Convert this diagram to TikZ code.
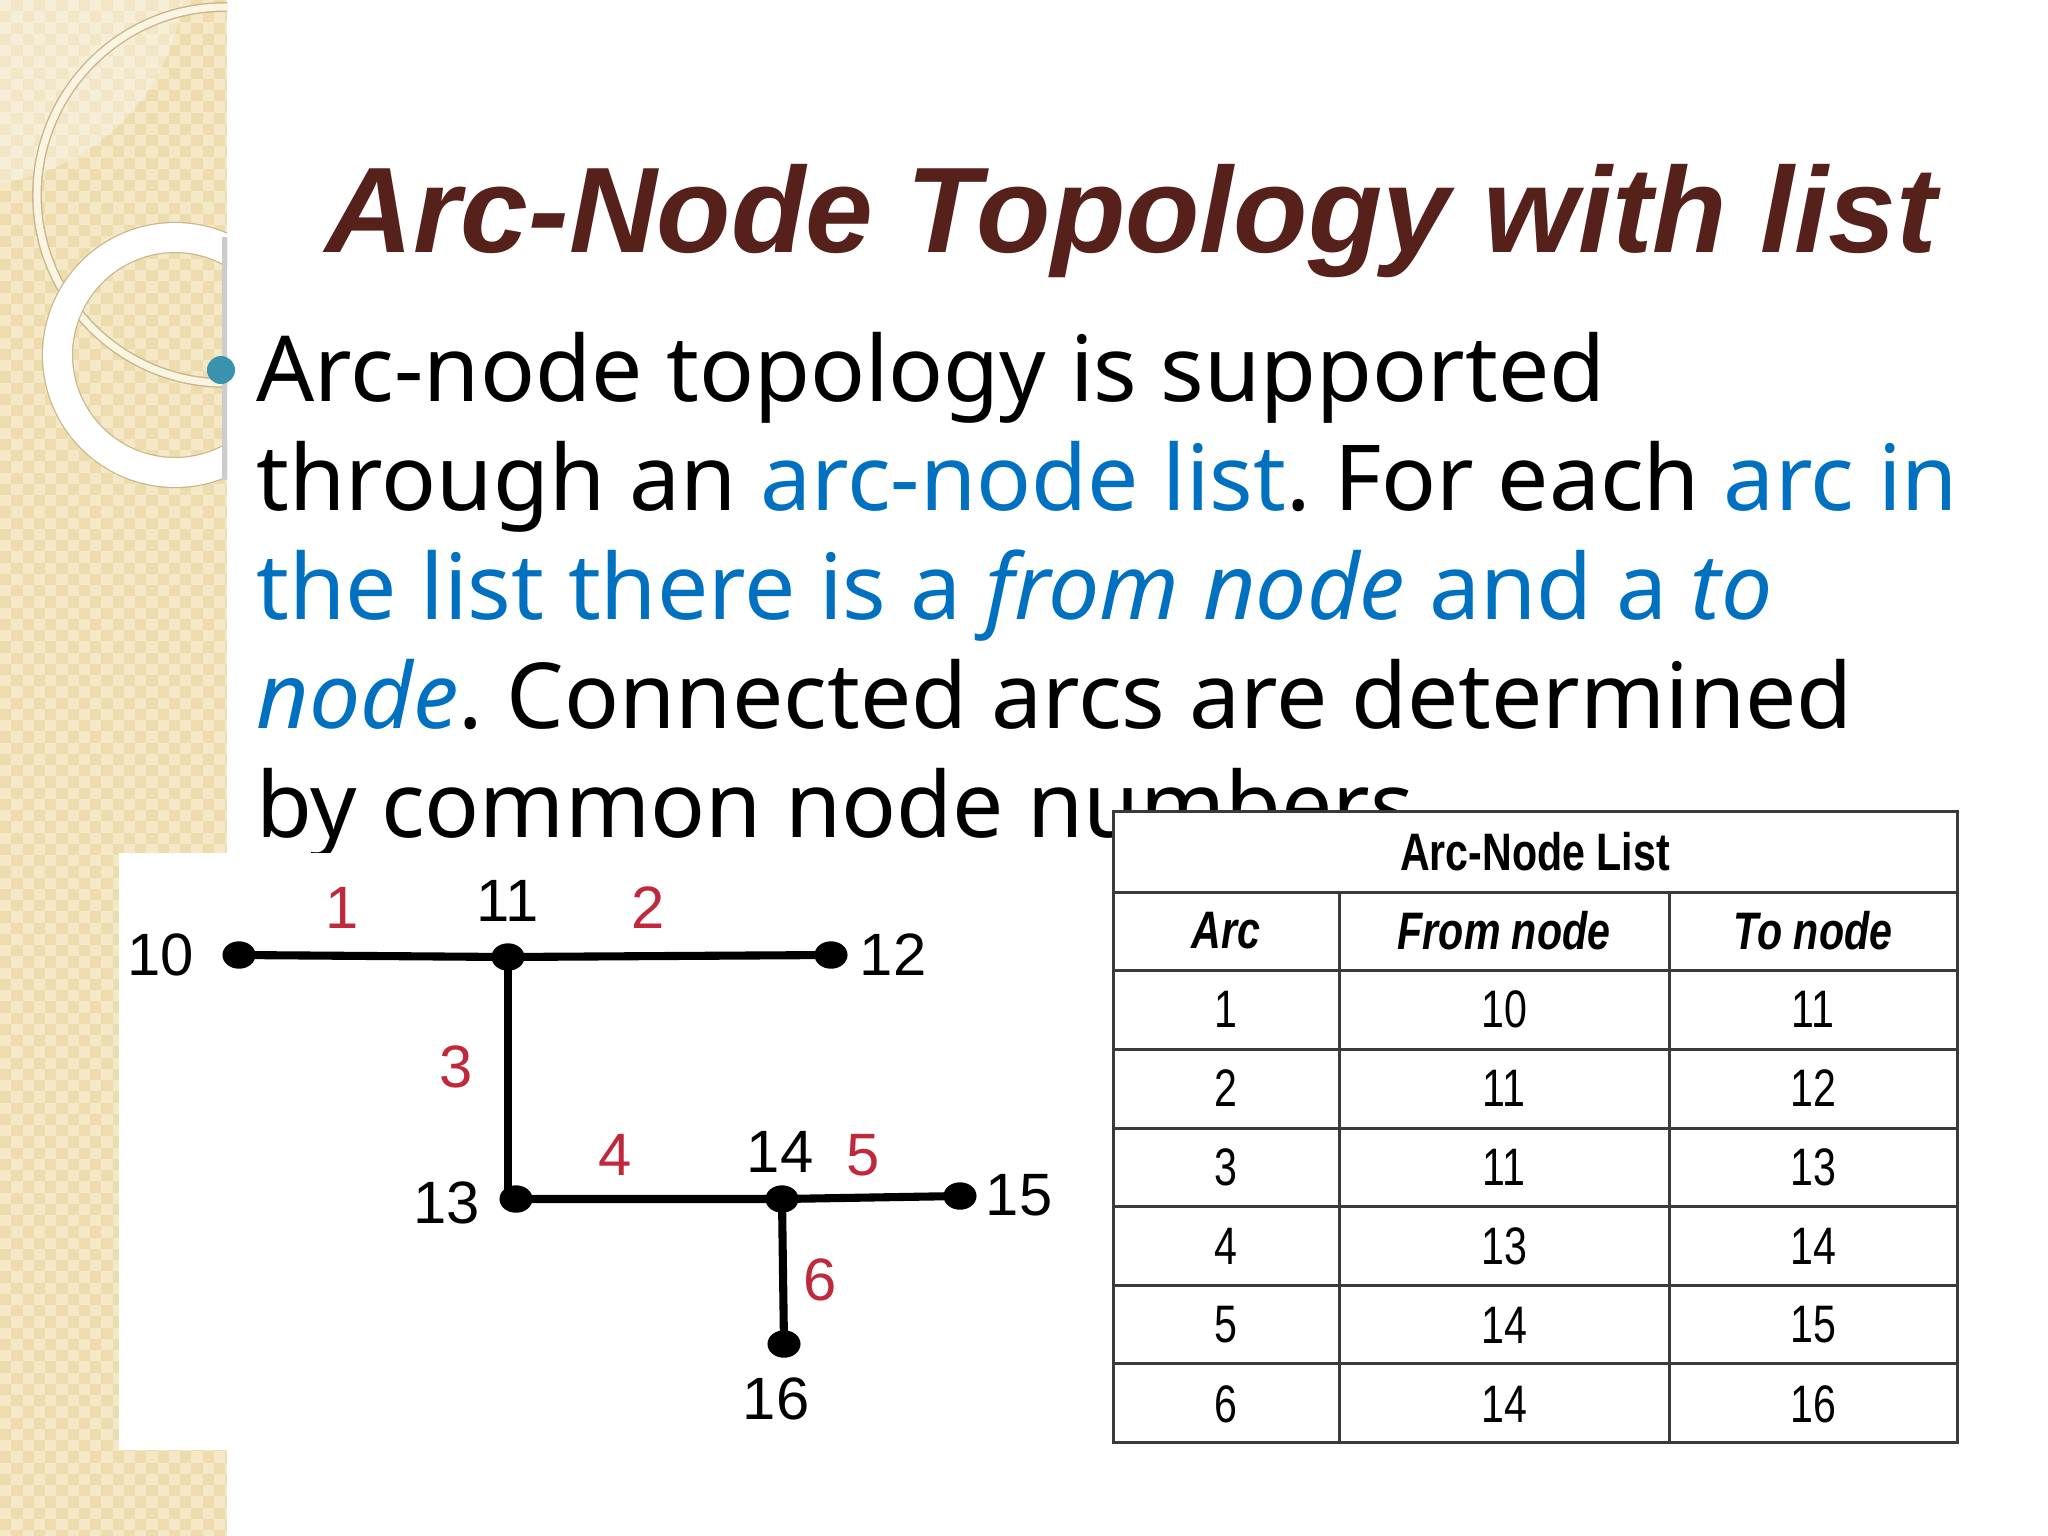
\documentclass[tikz,border=0pt]{standalone}
\usepackage{fontspec}
\usetikzlibrary{shapes.geometric}
\setmainfont{Noto Sans}
\newfontfamily\titlefont{Liberation Sans}
\newfontfamily\tabfont{Liberation Sans}[FakeStretch=0.78]
\newfontfamily\graphfont{Liberation Sans}
\definecolor{beige}{HTML}{EDDCAE}
\definecolor{beigelight}{HTML}{F4E8C6}
\definecolor{cream}{HTML}{FAF4E2}
\definecolor{ringedge}{HTML}{C9B78A}
\definecolor{titlebrown}{HTML}{56211A}
\definecolor{bodyblue}{HTML}{0070C0}
\definecolor{bullteal}{HTML}{3A93AD}
\definecolor{arcred}{HTML}{C0283C}
\definecolor{tabline}{HTML}{3A3A3A}
\newcommand{\bl}[1]{\textcolor{bodyblue}{#1}}
\frenchspacing
\tikzset{
  bodyline/.style={anchor=base west, inner sep=0pt, font=\fontsize{25.9pt}{31pt}\selectfont},
  gdot/.style={ellipse, fill=black, inner sep=0pt, minimum width=9.4pt, minimum height=7.8pt},
  garc/.style={line width=2.3pt, black},
  nlab/.style={font=\graphfont\fontsize{17pt}{20pt}\selectfont, text=black, inner sep=0pt},
  alab/.style={font=\graphfont\fontsize{17pt}{20pt}\selectfont, text=arcred, inner sep=0pt},
  tline/.style={line width=0.85pt, tabline},
  tcell/.style={font=\tabfont\fontsize{15pt}{18pt}\selectfont, inner sep=0pt},
  checker/.style={beigelight, line width=3.2pt, dash pattern=on 3.2pt off 3.2pt},
}
\begin{document}
\begin{tikzpicture}[x=0.01cm,y=-0.01cm]
\useasboundingbox (0,0) rectangle (2048,1536);
\fill[white] (0,0) rectangle (2048,1536);
% decorative strip
\begin{scope}
  \clip (0,0) rectangle (227,1536);
  \fill[beige] (0,0) rectangle (227,1536);
  \foreach \j in {0,...,137} {
    \pgfmathsetmacro{\ph}{mod(\j,2)*3.2}
    \draw[checker, dash phase=\ph pt] (0,\j*11.25+5.62) -- (227,\j*11.25+5.62);
  }
  \fill[white, opacity=0.3] (-30,-30) circle[radius=215];
  \draw[ringedge, line width=2.8pt] (225,195) circle[radius=188];
  \draw[cream, line width=2.0pt] (225,195) circle[radius=188];
  \draw[ringedge, line width=8.9pt] (175,355) circle[radius=117.5];
  \draw[white, line width=8.2pt] (175,355) circle[radius=117.5];
  \draw[gray!40, line width=1.5pt] (225,237) -- (225,480);
\end{scope}
% title
\node[anchor=base west, inner sep=0pt, text=titlebrown,
  font=\titlefont\bfseries\itshape\fontsize{34.6pt}{40pt}\selectfont] (title) at (325,252) {Arc-Node Topology with list};
% bullet
\fill[bullteal] (221,370) circle[radius=14];
% body text
\node[bodyline] (l1) at (256,401) {Arc-node topology is supported};
\node[bodyline] (l2) at (256,510) {through an \bl{arc-node list}. For each \bl{arc in}};
\node[bodyline] (l3) at (256,619) {\bl{the list there is a \textit{from node} and a \textit{to}}};
\node[bodyline] (l4) at (256,728) {\bl{\textit{node}}. Connected arcs are determined};
\node[bodyline] (l5) at (256,837) {by common node numbers.};
% graph panel
\fill[white] (119,853) rectangle (400,1450);
\node[gdot] (n10) at (239,955) {};
\node[gdot] (n11) at (508,957) {};
\node[gdot] (n12) at (831,955) {};
\node[gdot] (n13) at (516,1199) {};
\node[gdot] (n14) at (782,1199) {};
\node[gdot] (n15) at (960,1196) {};
\node[gdot] (n16) at (784,1344) {};
\coordinate (c3) at (n11 |- n13);
\draw[garc] (n10.center) -- (n11.center) -- (n12.center);
\draw[garc] (n11.center) -- (c3) -- (n13.center);
\draw[garc] (n13.center) -- (n14.center) -- (n15.center);
\draw[garc] (n14.center) -- (n16.center);
\node[nlab] (t10) at (161,955) {10};
\node[nlab] (t11) at (508,901) {11};
\node[nlab] (t12) at (893,955) {12};
\node[nlab] (t13) at (447,1203) {13};
\node[nlab] (t14) at (780,1152) {14};
\node[nlab] (t15) at (1019,1195) {15};
\node[nlab] (t16) at (776,1399) {16};
\node[alab] (a1) at (342,908) {1};
\node[alab] (a2) at (648,908) {2};
\node[alab] (a3) at (456,1067) {3};
\node[alab] (a4) at (615,1155) {4};
\node[alab] (a5) at (863,1155) {5};
\node[alab] (a6) at (820,1280) {6};
% table
\fill[white] (1113,811) rectangle (1957,1442);
\draw[tline] (1113,811) rectangle (1957,1442);
\draw[tline] (1113,892) -- (1957,892);
\foreach \y in {970,1049,1128,1206,1285,1363} {\draw[tline] (1113,\y) -- (1957,\y);}
\draw[tline] (1339,892) -- (1339,1442);
\draw[tline] (1669,892) -- (1669,1442);
\node[tcell, font=\tabfont\bfseries\fontsize{15pt}{18pt}\selectfont] (th) at (1535,851.5) {Arc-Node List};
\node[tcell, font=\tabfont\bfseries\itshape\fontsize{15pt}{18pt}\selectfont] (h1) at (1226,931) {Arc};
\node[tcell, font=\tabfont\bfseries\itshape\fontsize{15pt}{18pt}\selectfont] (h2) at (1504,931) {From node};
\node[tcell, font=\tabfont\bfseries\itshape\fontsize{15pt}{18pt}\selectfont] (h3) at (1813,931) {To node};
\foreach \a/\f/\t [count=\i] in {1/10/11,2/11/12,3/11/13,4/13/14,5/14/15,6/14/16} {
  \pgfmathsetmacro{\yy}{970+(\i-0.5)*78.9}
  \node[tcell] (ra\i) at (1226,\yy) {\a};
  \node[tcell] (rf\i) at (1504,\yy) {\f};
  \node[tcell] (rt\i) at (1813,\yy) {\t};
}
\end{tikzpicture}
\end{document}
